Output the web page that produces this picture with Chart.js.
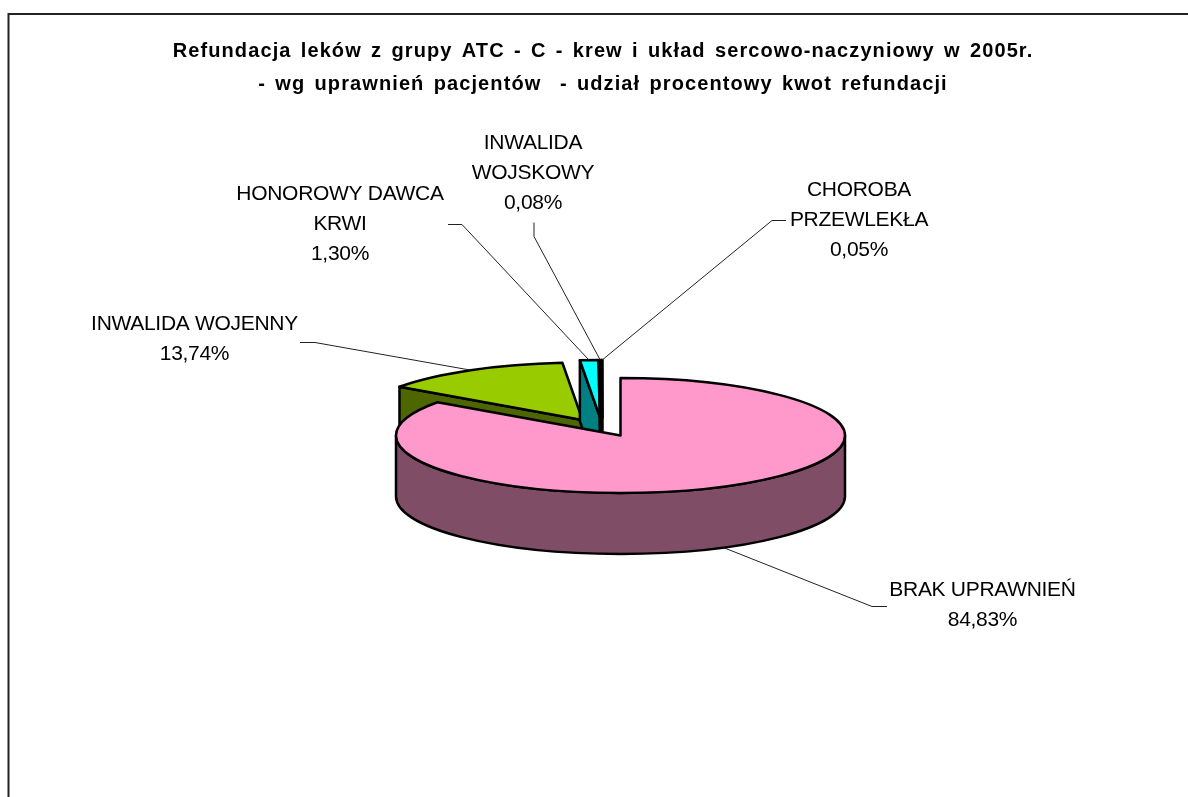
<!DOCTYPE html>
<html>
<head>
<meta charset="utf-8">
<style>
html, body { margin: 0; padding: 0; background: #fff; }
canvas { display: block; }
</style>
<script src="https://cdn.jsdelivr.net/npm/chart.js@4"></script>
</head>
<body>
<canvas id="myChart" width="1188" height="797"></canvas>
<script>
var titleLines = [
	'Refundacja leków z grupy ATC - C - krew i układ sercowo-naczyniowy w 2005r.',
	'- wg uprawnień pacjentów  - udział procentowy kwot refundacji'
];
var categories = [
	['BRAK UPRAWNIEŃ'],
	['INWALIDA WOJENNY'],
	['HONOROWY DAWCA', 'KRWI'],
	['INWALIDA', 'WOJSKOWY'],
	['CHOROBA', 'PRZEWLEKŁA']
];
var shares = [84.83, 13.74, 1.30, 0.08, 0.05];

var topColors = ['#FF99CC', '#99CC00', '#00FFFF', '#FF8080', '#0066CC'];
var sideColors = ['#804D66', '#4D6600', '#008080', '#804040', '#003366'];

// 3d look of the pie
var tilt = 0.2561;
var depth = 61;
var pieShiftX = 17.5;
var explodeX = [0, -38, -20.5, -19, -18];
var explodeY = [0, -15.5, -18, -18, -18];
var drawOrder = [1, 2, 3, 4, 0];

// label centre, first line y, and where the leader line leaves the text
var labelBoxes = [
	{ x: 982.5, y: 590, from: [887, 606], elbow: [872, 606] },
	{ x: 194.5, y: 324, from: [300, 342], elbow: [315, 342] },
	{ x: 340, y: 194, from: [448, 224], elbow: [462, 224] },
	{ x: 533, y: 143, from: [534, 222], elbow: [534, 236] },
	{ x: 859, y: 190, from: [786, 220], elbow: [772, 220] }
];

var labelFont = '21px "Liberation Sans", Arial, sans-serif';

function rimPoint(el, i, angle) {
	return {
		x: el.x + pieShiftX + explodeX[i] + el.outerRadius * Math.cos(angle),
		y: el.y + explodeY[i] + el.outerRadius * tilt * Math.sin(angle)
	};
}

var pie3d = {
	id: 'pie3d',
	beforeDraw: function (chart) {
		var ctx = chart.ctx;
		ctx.save();
		ctx.strokeStyle = '#222';
		ctx.lineWidth = 2;
		ctx.beginPath();
		ctx.moveTo(8.5, 797);
		ctx.lineTo(8.5, 14);
		ctx.lineTo(1188, 14);
		ctx.stroke();
		ctx.restore();
		// the title is drawn next and picks these up
		ctx.letterSpacing = '1.1px';
		ctx.wordSpacing = '2.6px';
	},
	beforeDatasetDraw: function (chart, args) {
		var ctx = chart.ctx;
		var arcs = chart.getDatasetMeta(args.index).data;
		ctx.letterSpacing = '0px';
		ctx.wordSpacing = '0px';
		ctx.lineJoin = 'round';
		drawOrder.forEach(function (i) {
			var el = arcs[i];
			var cx = el.x + pieShiftX + explodeX[i];
			var cy = el.y + explodeY[i];
			var ry = el.outerRadius * tilt;
			ctx.save();
			ctx.lineWidth = 2.5;
			ctx.strokeStyle = '#000';
			ctx.fillStyle = sideColors[i];

			// wall on the cut edge, only seen on slices left of the top
			if (el.startAngle > Math.PI / 2) {
				var p = rimPoint(el, i, el.startAngle);
				ctx.beginPath();
				ctx.moveTo(p.x, p.y);
				ctx.lineTo(cx, cy);
				ctx.lineTo(cx, cy + depth);
				ctx.lineTo(p.x, p.y + depth);
				ctx.closePath();
				ctx.fill();
				ctx.stroke();
			}

			// outer wall, front half of the rim
			var a0 = Math.max(el.startAngle, 0);
			var a1 = Math.min(el.endAngle, Math.PI);
			if (a1 > a0) {
				ctx.beginPath();
				ctx.ellipse(cx, cy, el.outerRadius, ry, 0, a0, a1);
				ctx.ellipse(cx, cy + depth, el.outerRadius, ry, 0, a1, a0, true);
				ctx.closePath();
				ctx.fill();
				ctx.stroke();
			}

			// top face: the library's own arc, squashed
			ctx.save();
			ctx.translate(cx, cy);
			ctx.scale(1, tilt);
			ctx.translate(-el.x, -el.y);
			el.draw(ctx);
			ctx.restore();

			ctx.beginPath();
			ctx.moveTo(cx, cy);
			ctx.ellipse(cx, cy, el.outerRadius, ry, 0, el.startAngle, el.endAngle);
			ctx.closePath();
			ctx.stroke();
			ctx.restore();
		});
		return false;
	},
	afterDatasetsDraw: function (chart) {
		var ctx = chart.ctx;
		var arcs = chart.getDatasetMeta(0).data;
		ctx.save();
		ctx.letterSpacing = '-0.3px';
		ctx.font = labelFont;
		ctx.textAlign = 'center';
		ctx.textBaseline = 'middle';
		ctx.fillStyle = '#000';
		arcs.forEach(function (el, i) {
			var box = labelBoxes[i];
			var mid = (el.startAngle + el.endAngle) / 2;
			var end = rimPoint(el, i, mid);
			if (mid > 0 && mid < Math.PI) {
				end.y += depth;
			}
			ctx.strokeStyle = '#222';
			ctx.lineWidth = 1;
			ctx.beginPath();
			ctx.moveTo(box.from[0], box.from[1] + 0.5);
			ctx.lineTo(box.elbow[0], box.elbow[1] + 0.5);
			ctx.lineTo(end.x, end.y);
			ctx.stroke();

			var lines = categories[i].concat(shares[i].toFixed(2).replace('.', ',') + '%');
			lines.forEach(function (line, n) {
				ctx.fillText(line, box.x, box.y + n * 30);
			});
		});
		ctx.restore();
	}
};

var ctx = document.getElementById('myChart').getContext('2d');

var pieChart = new Chart(ctx, {
	type: 'pie',
	data: {
		labels: categories,
		datasets: [{
			data: shares,
			backgroundColor: topColors,
			borderWidth: 0
		}]
	},
	options: {
		responsive: false,
		animation: false,
		layout: { padding: { left: 18, bottom: 137 } },
		plugins: {
			legend: { display: false },
			tooltip: { enabled: false },
			title: {
				display: true,
				text: titleLines,
				color: '#000',
				font: { family: '"Liberation Sans", Arial, sans-serif', size: 20, weight: 'bold', lineHeight: 1.65 },
				padding: { top: 35, bottom: 110 }
			}
		}
	},
	plugins: [pie3d]
});
</script>
</body>
</html>
